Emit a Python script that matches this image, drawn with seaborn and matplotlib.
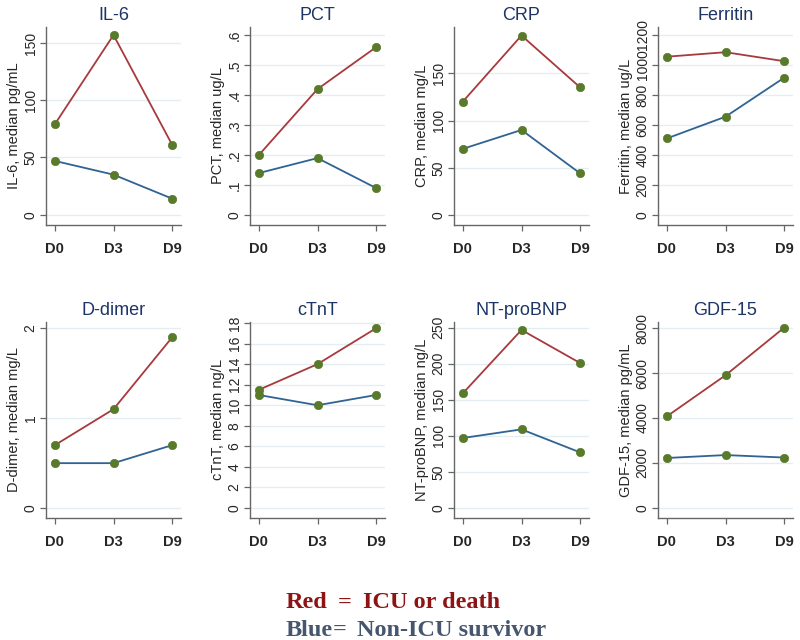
import matplotlib
matplotlib.use("Agg")
import matplotlib.pyplot as plt
import seaborn as sns
import pandas as pd

days = ["D0", "D3", "D9"]
groups = ["ICU or death", "Non-ICU survivor"]

markers = ["IL-6", "PCT", "CRP", "Ferritin", "D-dimer", "cTnT", "NT-proBNP", "GDF-15"]
units = ["pg/mL", "ug/L", "mg/L", "ug/L", "mg/L", "ng/L", "ng/L", "pg/mL"]

red_vals = [
    [79, 157, 61],
    [0.20, 0.42, 0.56],
    [120, 190, 135],
    [1055, 1085, 1025],
    [0.7, 1.1, 1.9],
    [11.5, 14, 17.5],
    [159, 247, 201],
    [4070, 5900, 8020],
]
blue_vals = [
    [47, 35, 14],
    [0.14, 0.19, 0.09],
    [70, 90, 44],
    [510, 655, 915],
    [0.5, 0.5, 0.7],
    [11, 10, 11],
    [97, 109, 77],
    [2220, 2350, 2240],
]

yticks = [
    [0, 50, 100, 150],
    [0, 0.1, 0.2, 0.3, 0.4, 0.5, 0.6],
    [0, 50, 100, 150],
    [0, 200, 400, 600, 800, 1000, 1200],
    [0, 1, 2],
    [0, 2, 4, 6, 8, 10, 12, 14, 16, 18],
    [0, 50, 100, 150, 200, 250],
    [0, 2000, 4000, 6000, 8000],
]
pct_labels = ["0", ".1", ".2", ".3", ".4", ".5", ".6"]

# axis ranges (scale settings)
ylims = [
    (-9, 164), (-0.033, 0.627), (-10.6, 199), (-67, 1253),
    (-0.11, 2.07), (-0.97, 18.1), (-14, 258), (-450, 8270),
]

RED = "#a8393c"
BLUE = "#2f6394"
GREEN = "#587a2a"
NAVY = "#1c3466"

sns.set_style("white")
plt.rcParams["font.family"] = ["Liberation Sans", "DejaVu Sans"]

fig = plt.figure(figsize=(8, 6.4), dpi=100)

lefts = [46, 250, 454, 658]
rows = [(27, 225), (322, 518)]

for i, name in enumerate(markers):
    r, c = divmod(i, 4)
    top, bot = rows[r]
    ax = fig.add_axes([lefts[c] / 800, 1 - bot / 640, 135 / 800, (bot - top) / 640])

    df = pd.DataFrame({
        "day": days * 2,
        "value": red_vals[i] + blue_vals[i],
        "group": [groups[0]] * 3 + [groups[1]] * 3,
    })
    sns.lineplot(data=df, x="day", y="value", hue="group", sort=False,
                 palette={groups[0]: RED, groups[1]: BLUE},
                 linewidth=1.3, legend=False, ax=ax)
    sns.scatterplot(data=df, x="day", y="value", color=GREEN, s=36,
                    edgecolor=GREEN, linewidth=0.5, zorder=5, legend=False, ax=ax)

    ax.set_xlim(-0.15, 2.15)
    ax.set_ylim(*ylims[i])
    ax.set_yticks(yticks[i])
    if name == "PCT":
        ax.set_yticklabels(pct_labels)
    ax.yaxis.grid(True, color="#e3eef2", linewidth=1.0)
    ax.set_axisbelow(True)
    for s in ["top", "right"]:
        ax.spines[s].set_visible(False)
    for s in ["left", "bottom"]:
        ax.spines[s].set_color("#666666")
        ax.spines[s].set_linewidth(1.0)
    ax.tick_params(axis="y", which="both", left=True, length=4, width=0.9,
                   color="#666666", labelsize=10, rotation=90, pad=2)
    for lab in ax.get_yticklabels():
        lab.set_verticalalignment("center")
    ax.tick_params(axis="x", which="both", bottom=True, length=4, width=0.9,
                   color="#666666", labelsize=10.5, pad=8)
    for lab in ax.get_xticklabels():
        lab.set_fontweight("bold")
    ax.set_xlabel("")
    ax.set_ylabel(f"{name}, median {units[i]}", fontsize=10.5, labelpad=2)
    ax.set_title(name, color=NAVY, fontsize=13, pad=5)

serif = ["Liberation Serif", "DejaVu Serif"]
leg = [
    (286, 603, "Red", "#8c1414"), (338, 603, "=", "#8c1414"),
    (363, 603, "ICU or death", "#8c1414"),
    (286, 630, "Blue", "#46566e"), (333, 630, "=", "#46566e"),
    (357, 630, "Non-ICU survivor", "#46566e"),
]
for x, y, txt, col in leg:
    fig.text(x / 800, 1 - y / 640, txt, family=serif, weight="bold",
             fontsize=17.5, color=col, va="center")

fig.savefig("out.png", dpi=100)
